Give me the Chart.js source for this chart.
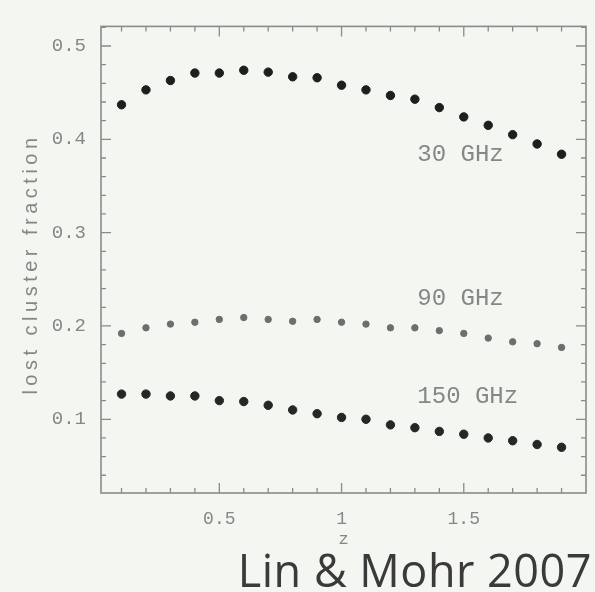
<!DOCTYPE html>
<html>
<head>
<meta charset="utf-8">
<script src="https://cdn.jsdelivr.net/npm/chart.js@4.4.1/dist/chart.umd.min.js"></script>
<style>
  html, body { margin: 0; padding: 0; background: #f3f6f1; }
  #wrap { width: 595px; height: 592px; position: relative; }
</style>
</head>
<body>
<div id="wrap"><canvas id="c" width="595" height="592"></canvas></div>
<script>
// ---- data ----
const zValues = [0.1, 0.2, 0.3, 0.4, 0.5, 0.6, 0.7, 0.8, 0.9, 1.0, 1.1, 1.2, 1.3, 1.4, 1.5, 1.6, 1.7, 1.8, 1.9];
const frac30GHz  = [0.437, 0.453, 0.463, 0.471, 0.471, 0.474, 0.472, 0.467, 0.466, 0.458, 0.453, 0.447, 0.443, 0.434, 0.424, 0.415, 0.405, 0.395, 0.384];
const frac90GHz  = [0.192, 0.198, 0.202, 0.204, 0.207, 0.209, 0.207, 0.205, 0.207, 0.204, 0.202, 0.198, 0.198, 0.195, 0.192, 0.187, 0.183, 0.181, 0.177];
const frac150GHz = [0.127, 0.127, 0.125, 0.125, 0.120, 0.119, 0.115, 0.110, 0.106, 0.102, 0.100, 0.094, 0.091, 0.087, 0.084, 0.080, 0.077, 0.073, 0.070];

const curveLabels = ['30 GHz', '90 GHz', '150 GHz'];
const curveLabelX = [1.31, 1.31, 1.31];
const curveLabelY = [0.384, 0.229, 0.124];

const xMajorTicks = [0.5, 1, 1.5];
const xMajorLabels = ['0.5', '1', '1.5'];
const yMajorTicks = [0.1, 0.2, 0.3, 0.4, 0.5];
const yMajorLabels = ['0.1', '0.2', '0.3', '0.4', '0.5'];
const xRange = [0.016, 2.0];
const yRange = [0.021, 0.521];

const xTitle = 'z';
const yTitle = 'lost cluster fraction';
const citation = 'Lin & Mohr 2007';

// minor tick positions
const xMinorTicks = [];
for (let i = 1; i <= 19; i++) xMinorTicks.push(+(i * 0.1).toFixed(2));
const yMinorTicks = [];
for (let i = 2; i <= 26; i++) yMinorTicks.push(+(i * 0.02).toFixed(2));

const BG = '#f3f6f1';
const AXIS = '#8a8c89';
const TEXTGRAY = '#858784';

const pts = (ys) => zValues.map((x, i) => ({x, y: ys[i]}));

const framePlugin = {
  id: 'frame',
  beforeDraw(chart) {
    const ctx = chart.ctx;
    ctx.save();
    ctx.fillStyle = BG;
    ctx.fillRect(0, 0, chart.width, chart.height);
    ctx.restore();
  },
  afterDatasetsDraw(chart) {
    const {ctx, chartArea: a, scales: {x, y}} = chart;
    ctx.save();
    ctx.strokeStyle = AXIS;
    ctx.lineWidth = 1.6;
    ctx.strokeRect(a.left, a.top, a.right - a.left, a.bottom - a.top);
    ctx.lineWidth = 1.3;
    ctx.beginPath();
    xMinorTicks.forEach(v => {
      const px = x.getPixelForValue(v);
      const len = xMajorTicks.some(m => Math.abs(m - v) < 1e-6) ? 10 : 5;
      ctx.moveTo(px, a.bottom); ctx.lineTo(px, a.bottom - len);
      ctx.moveTo(px, a.top); ctx.lineTo(px, a.top + len);
    });
    yMinorTicks.forEach(v => {
      const py = y.getPixelForValue(v);
      const len = yMajorTicks.some(m => Math.abs(m - v) < 1e-6) ? 10 : 5;
      ctx.moveTo(a.left, py); ctx.lineTo(a.left + len, py);
      ctx.moveTo(a.right, py); ctx.lineTo(a.right - len, py);
    });
    ctx.stroke();

    // curve labels
    ctx.fillStyle = TEXTGRAY;
    ctx.font = '24px "Liberation Mono", monospace';
    ctx.textAlign = 'left';
    ctx.textBaseline = 'middle';
    curveLabels.forEach((t, i) => {
      ctx.fillText(t, x.getPixelForValue(curveLabelX[i]), y.getPixelForValue(curveLabelY[i]));
    });

    // y title with spacing
    ctx.save();
    ctx.translate(31, 264);
    ctx.rotate(-Math.PI / 2);
    ctx.font = '20px "Liberation Sans", Arial, sans-serif';
    ctx.letterSpacing = '4.5px';
    ctx.textAlign = 'center';
    ctx.textBaseline = 'middle';
    ctx.fillText(yTitle, 0, 0);
    ctx.restore();

    // citation
    ctx.fillStyle = '#3a3a3a';
    ctx.font = '45px "Open Sans", Lato, sans-serif';
    ctx.letterSpacing = '0.5px';
    ctx.textAlign = 'right';
    ctx.textBaseline = 'alphabetic';
    ctx.fillText(citation, 592, 587);
    ctx.restore();
  }
};

new Chart(document.getElementById('c'), {
  type: 'scatter',
  data: {
    datasets: [
      { label: '30 GHz', data: pts(frac30GHz), backgroundColor: '#1e1e1e', borderColor: '#1e1e1e', pointRadius: 4.2, pointStyle: 'circle' },
      { label: '90 GHz', data: pts(frac90GHz), backgroundColor: '#6d6f6c', borderColor: '#6d6f6c', pointRadius: 3.2, pointStyle: 'circle' },
      { label: '150 GHz', data: pts(frac150GHz), backgroundColor: '#262626', borderColor: '#262626', pointRadius: 4.2, pointStyle: 'circle' }
    ]
  },
  options: {
    responsive: false,
    devicePixelRatio: 1,
    animation: false,
    layout: { padding: { left: 0, top: 14, right: 9, bottom: 0 } },
    plugins: { legend: { display: false }, tooltip: { enabled: false } },
    scales: {
      x: {
        type: 'linear',
        min: xRange[0], max: xRange[1],
        grid: { display: false, drawTicks: false },
        border: { display: false },
        afterBuildTicks: (s) => { s.ticks = xMajorTicks.map(v => ({value: v})); },
        afterFit: (s) => { s.height = 99; },
        ticks: {
          padding: 15,
          color: TEXTGRAY,
          font: { family: '"Liberation Mono", monospace', size: 18 },
          callback: (v) => { const i = xMajorTicks.findIndex(m => Math.abs(m - v) < 1e-6); return i >= 0 ? xMajorLabels[i] : ''; }
        },
        title: { display: true, text: xTitle, color: TEXTGRAY, font: { family: '"Liberation Mono", monospace', size: 17 }, padding: { top: 0, bottom: 42 } }
      },
      y: {
        type: 'linear',
        min: yRange[0], max: yRange[1],
        grid: { display: false, drawTicks: false },
        border: { display: false },
        afterBuildTicks: (s) => { s.ticks = yMajorTicks.map(v => ({value: v})); },
        afterFit: (s) => { s.width = 101; },
        ticks: {
          padding: 15,
          color: TEXTGRAY,
          font: { family: '"Liberation Mono", monospace', size: 19 },
          callback: (v) => { const i = yMajorTicks.findIndex(m => Math.abs(m - v) < 1e-6); return i >= 0 ? yMajorLabels[i] : ''; }
        }
      }
    }
  },
  plugins: [framePlugin]
});
</script>
</body>
</html>
